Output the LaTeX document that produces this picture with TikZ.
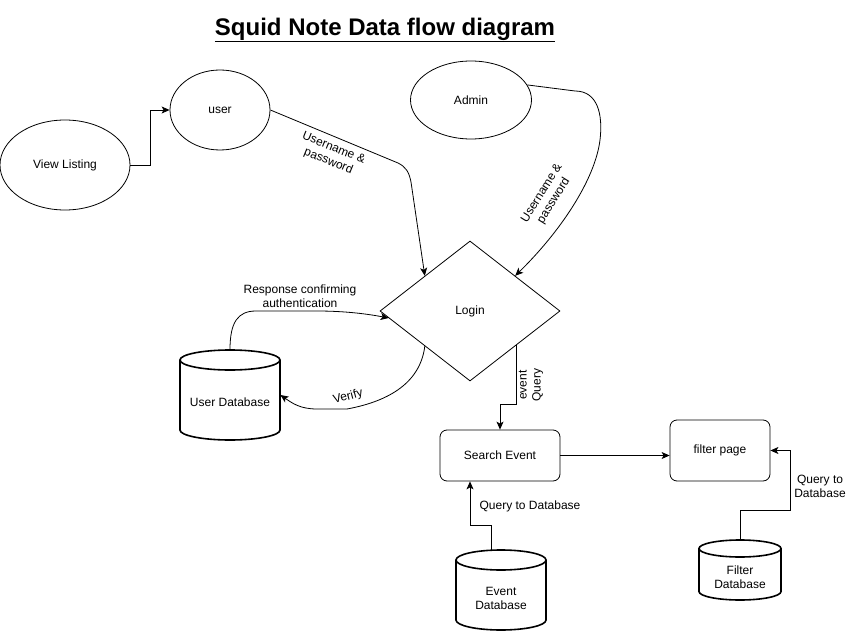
\documentclass[tikz,border=0pt]{standalone}
\usepackage{fontspec}
\setmainfont{Liberation Sans}
\usetikzlibrary{shapes.geometric,arrows.meta,calc}
\newcommand\dbcyl[5]{% lx ty rx by ry
  \pgfmathsetmacro\cyX{(#1+#3)/2}\pgfmathsetmacro\cyW{(#3-#1)/2}%
  \pgfmathsetmacro\cyT{#2+#5}\pgfmathsetmacro\cyB{#4-#5}%
  \pgfmathsetmacro\cyK{0.5523*#5}\pgfmathsetmacro\cyKx{0.5523*\cyW}%
  \draw[dbline] (\cyX,\cyT) ellipse [x radius=\cyW pt, y radius=#5 pt];
  \draw[dbline] (#1,\cyT) -- (#1,\cyB) .. controls (#1,\cyB+\cyK) and (\cyX-\cyKx,#4) .. (\cyX,#4)
     .. controls (\cyX+\cyKx,#4) and (#3,\cyB+\cyK) .. (#3,\cyB) -- (#3,\cyT);
}
\begin{document}
\begin{tikzpicture}[x=1pt,y=-1pt,
  every node/.style={font=\fontsize{12}{14}\selectfont},
  ell/.style={draw,ellipse,inner sep=0pt},
  box/.style={draw,rounded corners=7pt,inner sep=0pt},
  dbline/.style={line width=1.6pt},
  lbl/.style={align=center,inner sep=1pt},
  arr/.style={-{Stealth[length=8pt,width=7pt,inset=2pt]},line width=0.8pt},
  line width=0.8pt]
\useasboundingbox (0,0) rectangle (851,631);
% title
\node (title) at (385,30) {\fontsize{24}{28}\selectfont\bfseries\underline{Squid Note Data flow diagram}};
% ellipses
\node[ell,minimum width=130pt,minimum height=90pt] (vl) at (65,165) {View Listing};
\node[ell,minimum width=100pt,minimum height=80pt] (user) at (220,110) {user};
\node[ell,minimum width=121pt,minimum height=78pt] (admin) at (471,100) {Admin};
% login diamond
\node[draw,diamond,minimum width=180pt,minimum height=140pt,inner sep=0pt] (login) at (470,311) {Login};
% boxes
\node[box,minimum width=120pt,minimum height=51pt] (se) at (500,455.5) {Search Event};
\node[box,minimum width=100pt,minimum height=61pt] (fp) at (720,450.5) {filter page};
% databases
\dbcyl{180}{350}{280}{440}{10}
\node[minimum width=100pt,minimum height=90pt,inner sep=0pt] (udb) at (230,395) {};
\node at (230,402) {User Database};
\dbcyl{456}{550}{546}{630}{10}
\node[minimum width=90pt,minimum height=80pt,inner sep=0pt] (edb) at (501,590) {};
\node[lbl] at (501,598) {Event\\Database};
\dbcyl{699}{540}{781}{600}{8.5}
\node[minimum width=82pt,minimum height=60pt,inner sep=0pt] (fdb) at (740,570) {};
\node[lbl] at (740,577.5) {Filter\\Database};
% connectors
\draw[arr] (vl.east) -- ($(vl.east)+(20,0)$) |- (user.west);
\coordinate (lnw) at ($(login.north)!0.5!(login.west)$);
\coordinate (lne) at ($(login.north)!0.5!(login.east)$);
\coordinate (lsw) at ($(login.west)!0.5!(login.south)$);
\coordinate (lsw2) at ($(login.west)!0.1!(login.south)$);
\coordinate (lse) at ($(login.east)!0.49!(login.south)$);
\draw[arr] (user.east) -- (398,163) .. controls (406,167) and (409,172) .. (411,182) -- (lnw);
\node[lbl,rotate=-22] (l1) at (331,155) {Username \&\\password};
\draw[arr] (admin.15) -- (575,91) .. controls (598,91) and (603,115) .. (600,140)
   .. controls (595,180) and (560,232) .. (lne);
\node[lbl,rotate=58] (l2) at (548,197) {Username \&\\password};
\draw[arr] (udb.north) .. controls (230,322) and (238,311) .. (256,311) -- (317,311)
   .. controls (345,311) and (368,314) .. (lsw2);
\node[lbl] (l3) at (300,296) {Response confirming\\authentication};
\draw[arr] (lsw) .. controls (420,385) and (385,402) .. (347,409) -- (317,409)
   .. controls (300,409) and (292,403) .. (udb.east);
\node[lbl,rotate=15] (l4) at (348,397) {Verify};
\draw[arr] (lse) |- ($(se.north)+(0,-25)$) -- (se.north);
\node[lbl,rotate=90] (l5) at (531,385) {event\\Query};
\draw[arr] (se.east) -- (se.east -| fp.west);
\draw[arr] ($(edb.north)+(-10,0)$) |- ($(se.south)+(-30,44)$) -- ($(se.south)+(-30,0)$);
\node[lbl] (l6) at (530,506) {Query to Database};
\draw[arr] (fdb.north) |- ($(fp.east)+(20,59.5)$) |- (fp.east);
\node[lbl] (l7) at (820,486) {Query to\\Database};
\end{tikzpicture}
\end{document}
